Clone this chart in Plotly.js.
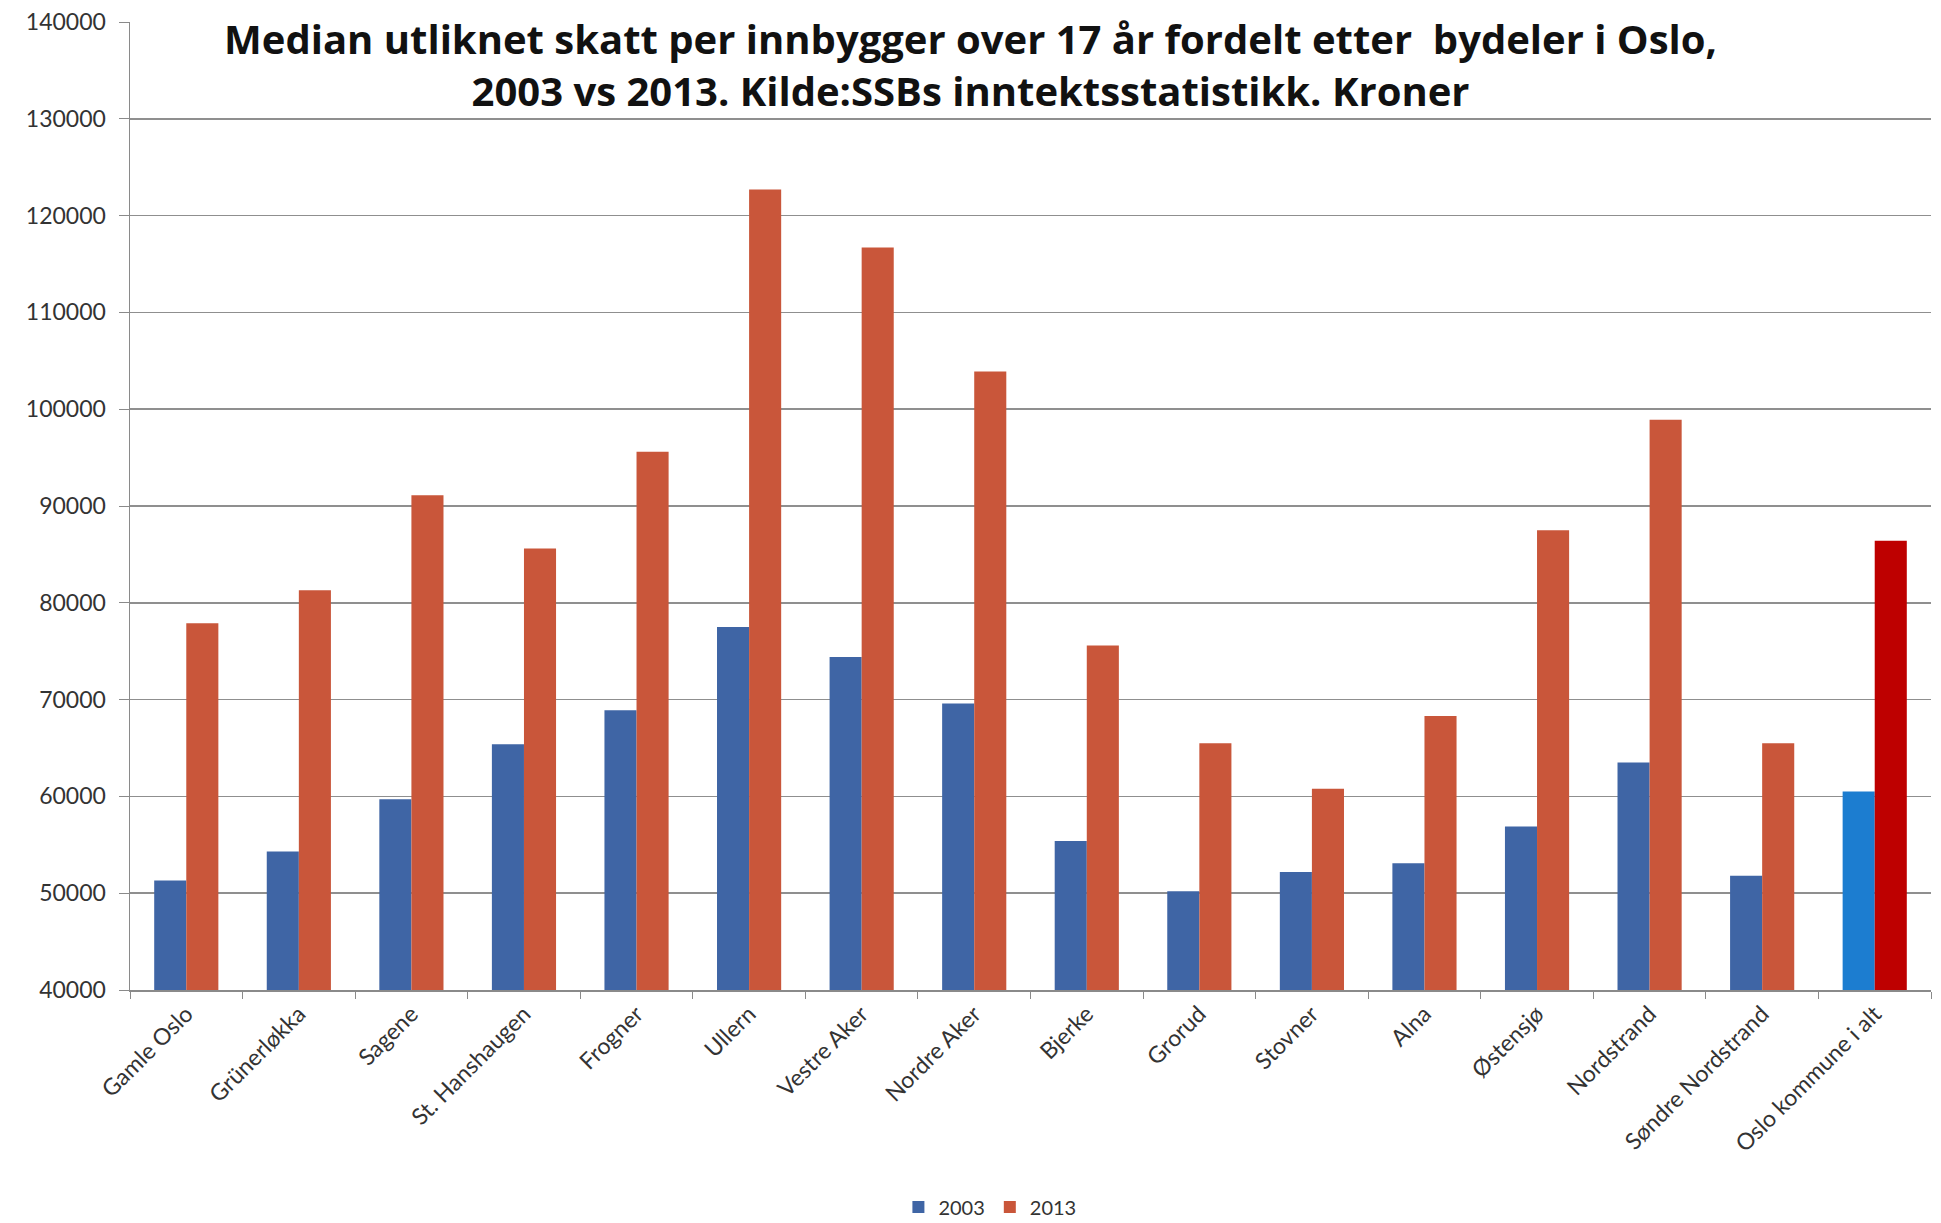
<!DOCTYPE html>
<html>
<head>
<meta charset="utf-8">
<script src="https://cdn.plot.ly/plotly-3.0.1.min.js"></script>
<style>
html,body{margin:0;padding:0;background:#fff;}
#chart{width:1941px;height:1223px;}
</style>
</head>
<body>
<div id="chart"></div>
<script>
const categories = ["Gamle Oslo","Grünerløkka","Sagene","St. Hanshaugen","Frogner","Ullern","Vestre Aker","Nordre Aker","Bjerke","Grorud","Stovner","Alna","Østensjø","Nordstrand","Søndre Nordstrand","Oslo kommune i alt"];
const values2003 = [51300,54300,59700,65400,68900,77500,74400,69600,55400,50200,52200,53100,56900,63500,51800,60500];
const values2013 = [77900,81300,91100,85600,95600,122700,116700,103900,75600,65500,60800,68300,87500,98900,65500,86400];
const seriesNames = ["2003","2013"];
const yTicks = [40000,50000,60000,70000,80000,90000,100000,110000,120000,130000,140000];

const blue = "#3F65A5", orange = "#C9563A", totBlue = "#1C7DD0", totRed = "#BE0000";
const c2003 = categories.map((c,i)=> i===categories.length-1 ? totBlue : blue);
const c2013 = categories.map((c,i)=> i===categories.length-1 ? totRed : orange);

const font = "Lato, 'Open Sans', 'DejaVu Sans', sans-serif";
const titleFont = "'Open Sans', Lato, 'DejaVu Sans', sans-serif";

const data = [
  {type:"bar", name:seriesNames[0], x:categories, y:values2003, marker:{color:c2003}},
  {type:"bar", name:seriesNames[1], x:categories, y:values2013, marker:{color:c2013}}
];

const layout = {
  width:1941, height:1223,
  paper_bgcolor:"#ffffff", plot_bgcolor:"#ffffff",
  margin:{l:130, r:10, t:22, b:233},
  font:{family:font, color:"#3a3a3a"},
  title:{
    text:"Median utliknet skatt per innbygger over 17 år fordelt etter  bydeler i Oslo,<br>2003 vs 2013. Kilde:SSBs inntektsstatistikk. Kroner",
    font:{family:titleFont, size:40, color:"#111111", weight:"bold"},
    x:0.5, xanchor:"center", xref:"container",
    y:0.956, yanchor:"top", yref:"container"
  },
  barmode:"group",
  bargap:0.43, bargroupgap:0,
  xaxis:{
    type:"category",
    tickangle:-45,
    tickfont:{family:font, size:23, color:"#333"},
    showline:true, linecolor:"#8a8a8a", linewidth:1.5,
    ticks:"outside", tickson:"boundaries", ticklen:7, tickcolor:"#8a8a8a",
    showgrid:false
  },
  yaxis:{
    range:[40000,140000],
    tickvals:yTicks,
    ticktext:yTicks.map(String),
    tickfont:{family:font, size:23, color:"#333"},
    showline:true, linecolor:"#8a8a8a", linewidth:1.5,
    ticks:"outside", ticklen:10, tickcolor:"#8a8a8a",
    ticklabelstandoff:8,
    showgrid:true, gridcolor:"#8f8f8f", gridwidth:1.5,
    zeroline:false
  },
  legend:{
    orientation:"h",
    x:0.51, xanchor:"center", xref:"container",
    y:0.013, yanchor:"middle", yref:"container",
    font:{family:font, size:20, color:"#333"},
    itemwidth:30
  },
  showlegend:true
};

Plotly.newPlot("chart", data, layout, {displayModeBar:false, staticPlot:true});
</script>
</body>
</html>
